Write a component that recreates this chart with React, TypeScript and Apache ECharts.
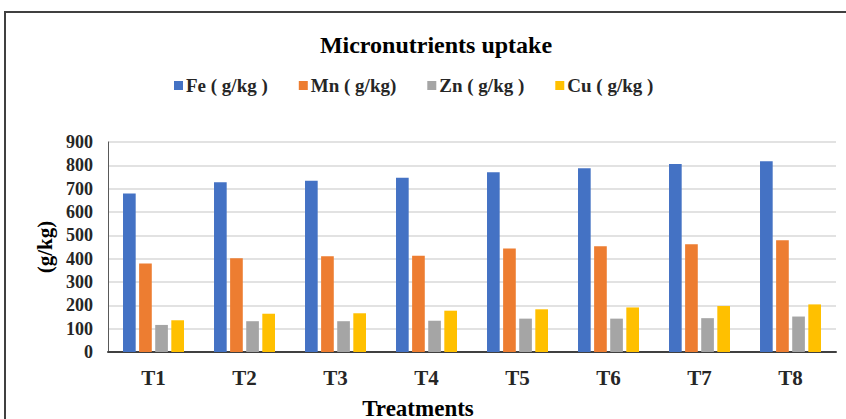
import React, { useEffect, useRef } from "react";
import * as echarts from "echarts";

const categories = ["T1", "T2", "T3", "T4", "T5", "T6", "T7", "T8"];
const seriesNames = ["Fe ( g/kg )", "Mn ( g/kg)", "Zn ( g/kg )", "Cu ( g/kg )"];
const feValues = [679, 727, 734, 747, 770, 787, 806, 817];
const mnValues = [379, 402, 410, 413, 444, 453, 462, 479];
const znValues = [116, 132, 132, 134, 143, 143, 145, 152];
const cuValues = [136, 164, 166, 177, 183, 191, 197, 204];
const colors = ["#4472C4", "#ED7D31", "#A5A5A5", "#FFC000"];

const FONT = "'Liberation Serif', 'Times New Roman', serif";

export default function App() {
  const ref = useRef<HTMLDivElement>(null);
  useEffect(() => {
    document.body.style.margin = "0";
    const chart = echarts.init(ref.current!, null, { renderer: "svg" });
    const data = [feValues, mnValues, znValues, cuValues];
    chart.setOption({
      animation: false,
      backgroundColor: "#ffffff",
      title: {
        text: "Micronutrients uptake",
        left: 431,
        top: 28,
        textAlign: "center",
        textStyle: { fontFamily: FONT, fontWeight: "bold", fontSize: 24, color: "#000" },
      },
      legend: {
        top: 71,
        left: 169,
        itemWidth: 9,
        itemHeight: 9,
        itemGap: 31,
        icon: "rect",
        textStyle: { fontFamily: FONT, fontWeight: "bold", fontSize: 19, color: "#262626", padding: [0, 0, 0, -2] },
        data: seriesNames,
      },
      grid: { left: 108, right: 10, top: 142, bottom: 67, containLabel: false },
      xAxis: {
        type: "category",
        data: categories,
        axisLine: { lineStyle: { color: "#404040", width: 2 } },
        axisTick: { show: false },
        axisLabel: { fontFamily: FONT, fontWeight: "bold", fontSize: 21, color: "#262626", margin: 15 },
      },
      yAxis: {
        type: "value",
        min: 0,
        max: 900,
        interval: 100,
        name: "(g/kg)",
        nameLocation: "middle",
        nameGap: 52,
        nameTextStyle: { fontFamily: FONT, fontWeight: "bold", fontSize: 21, color: "#000" },
        axisLine: { show: true, lineStyle: { color: "#595959", width: 1 } },
        axisTick: { show: false },
        axisLabel: { fontFamily: FONT, fontWeight: "bold", fontSize: 18, color: "#262626", margin: 15 },
        splitLine: { lineStyle: { color: "#d9d9d9", width: 1.5 } },
      },
      graphic: [
        {
          type: "rect",
          shape: { x: 5, y: 12, width: 860, height: 430 },
          style: { fill: "none", stroke: "#404040", lineWidth: 2 },
          silent: true,
        },
        {
          type: "text",
          x: 418,
          y: 408,
          style: {
            text: "Treatments",
            fontFamily: FONT,
            fontWeight: "bold",
            fontSize: 23,
            fill: "#000",
            align: "center",
            verticalAlign: "middle",
          },
        },
      ],
      series: seriesNames.map((name, i) => ({
        name,
        type: "bar",
        data: data[i],
        barGap: "27%",
        barCategoryGap: "33%",
        itemStyle: { color: colors[i] },
      })),
    });
    return () => chart.dispose();
  }, []);
  return <div ref={ref} style={{ width: 846, height: 419 }} />;
}
